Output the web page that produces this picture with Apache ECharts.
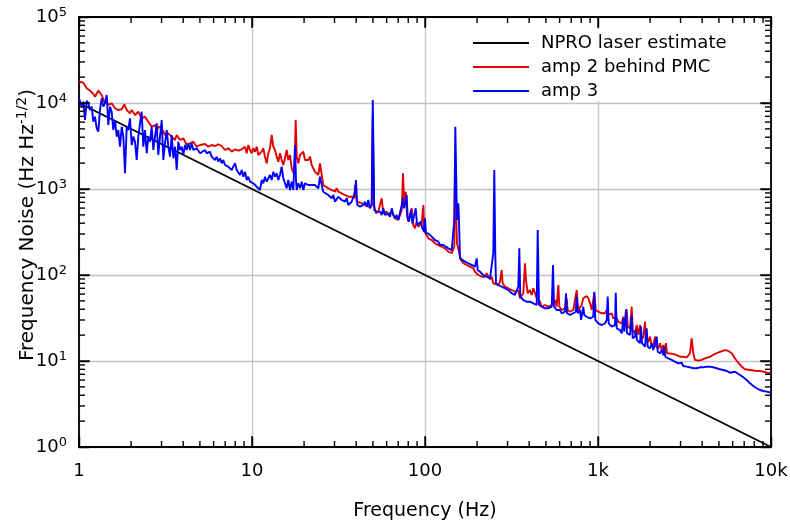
<!DOCTYPE html>
<html><head><meta charset="utf-8">
<script src="https://cdn.jsdelivr.net/npm/echarts@6/dist/echarts.min.js"></script>
<style>html,body{margin:0;padding:0;background:#fff}#c{width:790px;height:525px}</style>
</head><body><div id="c"></div>
<script>
// ---- data ----
const seriesNames = ['NPRO laser estimate', 'amp 2 behind PMC', 'amp 3'];
const xTickLabels = ['1', '10', '100', '1k', '10k'];
const yTickExponents = ['0', '1', '2', '3', '4', '5'];

const nproLaser = [[1, 10000], [10000, 1]];

const amp2 = [
[1.0,17690],[1.059,17220],[1.108,14820],[1.158,13900],[1.210,12730],[1.237,11840],[1.293,13900],[1.322,13540],[1.353,12390],[1.413,9920],
[1.446,10630],[1.477,9480],[1.545,9920],[1.615,8680],[1.687,8290],[1.766,8450],[1.828,9660],[1.887,8290],[1.971,7590],[2.017,8290],
[2.107,7255],[2.202,7920],[2.304,6640],[2.407,6930],[2.515,6060],[2.632,5300],[2.750,5550],[2.813,4640],[2.873,5300],[3.006,5080],
[3.142,4250],[3.283,4440],[3.434,4060],[3.589,3715],[3.671,4250],[3.836,3715],[4.009,3886],[4.194,3248],[4.382,3400],[4.579,3548],
[4.789,3104],[5.005,3248],
[5.121,3400],[5.350,3337],[5.590,3104],[5.848,3248],[6.110,3162],[6.387,3311],[6.681,3162],[6.983,2841],[7.295,2974],[7.632,2715],
[7.975,2894],[8.333,2788],[8.717,2894],[9.111,3104],[9.320,2601],[9.520,3248],[9.737,2841],[9.961,2601],[10.17,2974],[10.41,2715],
[10.65,3104],[10.88,2485],[11.12,2375],[11.38,2715],[11.62,2974],[11.89,2375],[12.16,1990],[12.43,2601],[12.71,2974],[13.00,4250],
[13.28,3104],[13.59,2841],[13.90,2375],[14.19,2077],[14.52,2601],[14.85,2174],[15.17,1902],[15.51,2275],[15.87,2841],[16.21,2174],
[16.59,2485],[16.97,1741],[17.33,1663],[17.57,1455],[17.89,6343],[18.13,2375],[18.52,1990],[18.95,2485],[19.38,2375],[19.80,2715],
[20.25,2174],[21.16,2174],[21.64,2375],[22.14,1902],[22.61,1741],[23.13,1589],[23.66,1523],
[24.2,1455],[24.7,1990],[25.3,1455],[25.8,1113],[26.4,1063],[27.6,1019],[28.9,974],[30.2,930],[30.9,1019],[31.5,930],
[33.0,891],[34.5,852],[36.0,814],[37.7,814],[39.0,780],[39.4,1113],[40.3,712],[41.2,682],[43.1,682],[45.0,652],
[46.0,682],[47.0,623],[48.1,596],[49.2,652],[49.9,7255],[50.7,652],[52.1,522],[53.7,545],[56.2,780],[57.4,522],
[58.7,499],[60.1,545],[61.4,499],[64.2,545],[67.1,456],[68.6,476],[70.1,436],[73.4,570],[74.6,1523],[75.9,652],
[77.4,930],[78.7,499],[80.1,417],[83.8,596],[85.6,381],[87.5,349],[89.5,417],[91.5,364],[95.7,399],[97.8,652],
[99.1,319],[102.3,292],[104.5,267],[109.3,255],
[114.2,234],[119.4,223],[124.9,213],[130.5,204],[136.4,187],[142.7,179],[145.8,171],[147.7,213],[149.1,1817],[151.1,1817],
[153.1,234],[155.8,244],[157.8,179],[161.5,149],[166.5,137],[174.2,131],[182.0,125],[190.2,120],[194.5,109],[203.3,100],
[212.7,95.5],[222.3,95.5],[227.3,105],[232.2,95.5],[237.5,89.1],[242.9,95.5],[248.2,80.1],[253.8,80.1],[265.2,76.5],[271.3,83.6],
[277.5,114],[281.2,80.1],[290.0,73.1],[303.0,70.0],[317.1,66.9],[331.3,63.9],[346.2,66.9],[354.1,53.6],[362.2,56.0],[370.0,61.3],
[378.4,137],[383.5,87.5],[392.3,61.3],[404.5,66.9],[413.8,58.6],[422.7,70.0],[432.3,61.3],[442.3,53.6],[451.8,51.2],[462.1,48.9],
[472.7,42.8],[493.9,44.8],[516.2,42.8],[540.1,44.8],
[564,51.2],[577,42.8],[590,76.5],[598,42.8],[617,39.2],[645,41.0],[659,53.6],[668,39.2],[689,37.4],[720,39.2],
[736,41.0],[753,66.9],[769,39.2],[787,39.2],[805,44.8],[822,53.6],[841,56.0],[860,57.0],[879,53.6],[899,46.9],
[920,39.2],[939,37.4],[952,61.3],[970,39.2],[1004,37.4],[1051,35.9],[1098,35.9],[1123,39.2],[1147,34.3],[1173,32.7],
[1200,35.9],[1226,31.4],[1254,30.0],[1283,31.4],[1310,28.6],[1340,27.4],[1371,27.4],[1401,32.7],[1432,25.1],[1465,39.9],
[1485,25.1],[1531,24.0],[1566,42.8],[1587,22.9],[1636,21.0],[1674,26.2],[1710,20.1],[1749,26.2],[1773,19.2],[1827,18.4],
[1869,28.6],[1894,17.5],[1953,16.8],[1998,19.2],[2025,16.1],[2088,15.3],[2136,19.2],[2164,14.7],[2232,14.0],[2283,16.1],
[2335,13.4],[2385,15.3],[2417,12.8],[2472,16.1],[2505,12.3],[2549,11.7],
[2725,12.1],[2851,11.7],[2979,11.2],[3112,11.2],[3256,11.0],[3327,11.2],[3403,12.3],[3480,18.4],[3555,12.3],[3636,10.3],
[3800,10.1],[3975,10.3],[4154,10.7],[4440,11.2],[4746,12.1],[5072,12.8],[5423,13.4],[5665,13.1],[5927,12.3],[6193,10.7],
[6471,9.55],[6770,8.59],[7074,8.01],[7560,7.86],[8083,7.71],[8639,7.65],[9027,7.51],[9444,7.31],[10000,7.19]
];

const amp3 = [
[1.0,11350],[1.037,9060],[1.059,10350],[1.083,6343],[1.108,10630],[1.132,9920],[1.158,8290],[1.184,9060],[1.210,6060],[1.237,6930],
[1.266,5080],[1.293,4640],[1.322,8290],[1.353,11350],[1.382,9060],[1.413,9920],[1.446,12390],[1.477,5550],[1.511,9060],[1.545,7920],
[1.579,4853],[1.615,6343],[1.652,4060],[1.687,4853],[1.726,3104],[1.766,5300],[1.804,4060],[1.845,1523],[1.887,5300],[1.928,4853],
[1.971,6640],[2.017,3248],[2.060,4060],[2.107,3548],[2.155,2174],[2.202,4060],[2.252,5807],[2.304,7920],[2.353,3104],[2.407,4853],
[2.462,2601],[2.515,4060],[2.573,3548],[2.632,5300],[2.689,2841],[2.750,4060],[2.813,5807],[2.873,2485],[2.939,4060],[3.006,6343],
[3.072,2174],[3.142,3400],[3.214,4853],[3.283,3104],[3.357,2375],[3.434,4250],[3.509,2275],[3.589,3104],[3.671,1663],[3.750,3548],
[3.836,2841],[3.924,3104],[4.009,2485],[4.101,3248],[4.194,2841],[4.284,3400],[4.382,2841],[4.482,3400],[4.579,2841],[4.683,2715],
[4.789,2974],[5.005,2601],
[5.121,2601],[5.350,2841],[5.473,2601],[5.590,2485],[5.719,2715],[5.848,2375],[5.974,2485],[6.110,2174],[6.252,2375],[6.387,2077],
[6.531,2275],[6.681,1990],[6.826,2174],[6.983,1902],[7.142,1990],[7.295,1817],[7.462,1902],[7.632,1663],[7.797,1817],[7.975,1990],
[8.158,1663],[8.333,1741],[8.524,1455],[8.717,1663],[8.908,1390],[9.111,1589],[9.320,1273],[9.520,1390],[9.737,1216],[9.961,1273],
[10.17,1165],[10.41,1216],[10.65,1063],[10.88,1113],[11.12,974],[11.38,1273],[11.62,1165],[11.89,1390],[12.16,1216],[12.43,1332],
[12.71,1455],[13.00,1273],[13.28,1589],[13.59,1390],[13.90,1523],[14.19,1273],[14.52,1455],[14.85,1817],[15.17,1332],[15.51,1273],
[15.87,1019],[16.21,1273],[16.59,974],[16.97,1216],[17.33,974],[17.73,3248],[17.96,1273],[18.13,974],[18.52,1165],[18.95,1019],
[19.38,1216],[19.80,974],[20.25,1165],[21.16,1113],[21.64,1063],[22.14,1113],[22.61,1063],
[23.1,1113],[24.2,1019],[24.7,1390],[25.3,1113],[25.8,930],[26.4,974],[27.6,852],[28.9,780],[29.5,852],[30.2,712],
[31.5,814],[33.0,745],[34.5,712],[35.3,780],[36.0,652],[37.7,712],[38.5,682],[39.4,930],[39.9,1273],[40.6,652],
[42.1,623],[44.0,652],[45.0,712],[46.0,623],[47.0,745],[48.1,596],[49.2,652],[49.9,10835],[50.3,10835],[50.9,570],
[52.6,545],[53.7,522],[55.0,545],[56.2,499],[57.4,596],[58.7,499],[60.1,476],[61.4,522],[62.8,476],[64.2,596],
[65.6,499],[67.1,456],[68.6,499],[70.1,436],[71.7,417],[73.4,652],[74.3,780],[75.6,596],[76.6,652],[78.4,852],
[79.4,456],[80.8,417],[83.0,570],[84.5,399],[86.4,381],[88.4,596],[89.9,381],[92.3,364],[94.8,417],[96.5,349],
[98.7,319],[100,456],[101.3,305],[104.5,305],[109.3,279],
[114.2,255],[119.4,244],[122.1,223],[124.9,234],[127.6,223],[130.5,213],[136.4,204],[142.7,195],[145.8,187],[147.7,436],
[149.7,5303],[151.7,5303],[153.1,436],[155.8,682],[157.2,436],[159.3,156],[163.0,149],[170.3,143],[177.9,137],[186.2,131],
[194.5,125],[199.0,156],[201.6,114],[208.0,109],[217.3,100],[227.3,95.5],[237.5,91.5],[242.9,91.5],[248.2,179],[251.5,1663],
[254.9,179],[257.2,80.1],[265.2,76.5],[277.5,73.1],[290.0,70.0],[303.0,66.9],[317.1,61.3],[331.3,58.6],[338.9,56.0],[346.2,73.1],
[350.9,204],[355.5,56.0],[370.0,51.2],[387.1,48.9],[404.5,48.9],[422.7,46.9],[442.3,44.8],[448.2,334],[456.0,44.8],[472.7,42.8],
[493.9,41.0],[516.2,41.0],[540.1,42.8],[549.5,131],[556.9,42.8],
[577,39.2],[590,37.4],[603,39.2],[617,35.9],[645,37.4],[653,61.3],[662,35.9],[689,34.3],[720,35.9],[743,37.4],
[753,56.0],[763,35.9],[787,39.2],[798,30.0],[822,42.8],[833,34.3],[860,32.7],[879,34.3],[899,31.4],[920,30.0],
[939,32.7],[952,63.9],[965,30.0],[1004,27.4],[1051,26.2],[1098,27.4],[1123,30.0],[1138,56.0],[1153,27.4],[1200,25.1],
[1254,26.2],[1266,62.3],[1283,24.0],[1340,22.9],[1371,21.0],[1401,31.4],[1419,21.9],[1451,39.9],[1471,21.0],[1531,20.1],
[1566,34.3],[1587,18.4],[1636,19.2],[1658,22.9],[1680,17.5],[1749,16.1],[1773,25.1],[1796,16.1],[1869,14.7],[1912,24.0],
[1937,14.7],[1998,14.0],[2044,16.1],[2088,13.4],[2136,14.0],[2185,19.2],[2214,12.8],[2283,12.3],[2335,13.4],[2385,11.7],
[2417,14.7],[2449,11.2],[2549,10.7],[2667,10.3],[2787,9.81],[2912,9.40],[2979,9.40],
[3046,9.55],[3112,8.75],[3256,8.59],[3403,8.45],[3555,8.23],[3636,8.59],[3719,8.23],[3886,8.45],[4061,8.45],[4249,8.59],
[4440,8.59],[4640,8.45],[4854,8.23],[5072,8.01],[5302,7.86],[5547,7.65],[5794,7.31],[6193,7.51],[6334,7.19],[6619,6.87],
[6916,6.46],[7235,6.01],[7560,5.50],[7903,5.12],[8267,4.82],[8639,4.60],[9027,4.48],[9444,4.40],[10000,4.28]
];

// ---- chart ----
const FONT = 'DejaVu Sans';
const chart = echarts.init(document.getElementById('c'), null, {renderer: 'canvas'});

const X_MIN = 1, X_MAX = 10000, Y_MIN = 1, Y_MAX = 100000;
// tick values on a log axis: [value, length] (decades long, 2..9 short)
function tickValues(maxVal) {
  const out = [];
  for (let d = 1; d <= maxVal; d *= 10) {
    out.push([d, 11]);
    if (d < maxVal) for (let k = 2; k <= 9; k++) out.push([d * k, 6]);
  }
  return out;
}
const xTicks = tickValues(X_MAX);
const yTicks = tickValues(Y_MAX);

const axisLineStyle = {color: '#000', width: 1.8};
const majorTick = {show: true, inside: true, length: 10, lineStyle: {color: '#000', width: 1.4}};

function plainLogAxis(min, max, position) {
  return {
    type: 'log', logBase: 10, min: min, max: max, position: position,
    axisLine: {show: true, onZero: false, lineStyle: axisLineStyle},
    axisTick: majorTick,
    axisLabel: {show: false}, splitLine: {show: false}
  };
}

chart.setOption({
  animation: false,
  backgroundColor: '#fff',
  grid: {left: 79, right: 19, top: 17, bottom: 78, containLabel: false, outerBoundsMode: 'none'},
  legend: {
    orient: 'vertical', left: 460, top: 29, padding: [4, 20, 0, 13],
    backgroundColor: '#fff', itemWidth: 56, itemHeight: 2, itemGap: 4, icon: 'rect',
    selectedMode: false, data: seriesNames,
    textStyle: {fontFamily: FONT, fontSize: 18, color: '#000', lineHeight: 20, padding: [0, 0, 0, 7]}
  },
  xAxis: [{
    type: 'log', logBase: 10, min: X_MIN, max: X_MAX, position: 'bottom',
    name: 'Frequency (Hz)', nameLocation: 'middle', nameGap: 55,
    nameTextStyle: {fontFamily: FONT, fontSize: 19, color: '#000'},
    axisLine: {show: true, onZero: false, lineStyle: axisLineStyle},
    axisTick: majorTick,
    axisLabel: {
      fontFamily: FONT, fontSize: 18, color: '#000', margin: 15,
      formatter: v => xTickLabels[Math.round(Math.log10(v))]
    },
    splitLine: {show: true, lineStyle: {color: '#c4c4c4', width: 1.3}}
  }, plainLogAxis(X_MIN, X_MAX, 'top')],
  yAxis: [{
    type: 'log', logBase: 10, min: Y_MIN, max: Y_MAX, position: 'left',
    name: '{t|Frequency Noise (Hz Hz}{s|-1/2}{t|)}', nameLocation: 'middle', nameGap: 38,
    nameMoveOverlap: false,
    nameTextStyle: {
      color: '#000', fontFamily: FONT, padding: [0, 0, 0, 14],
      rich: {
        t: {fontFamily: FONT, fontSize: 20, color: '#000', lineHeight: 26},
        s: {fontFamily: FONT, fontSize: 14, color: '#000', lineHeight: 15, verticalAlign: 'top'}
      }
    },
    axisLine: {show: true, onZero: false, lineStyle: axisLineStyle},
    axisTick: majorTick,
    axisLabel: {
      margin: 12, color: '#000',
      formatter: v => '{b|10}{s|' + yTickExponents[Math.round(Math.log10(v))] + '}',
      rich: {
        b: {fontFamily: FONT, fontSize: 18, color: '#000', lineHeight: 22},
        s: {fontFamily: FONT, fontSize: 13, color: '#000', lineHeight: 13, verticalAlign: 'top'}
      }
    },
    splitLine: {show: true, lineStyle: {color: '#c4c4c4', width: 1.3}}
  }, plainLogAxis(Y_MIN, Y_MAX, 'right')],
  series: [
    {name: seriesNames[0], type: 'line', data: nproLaser, symbol: 'none', xAxisIndex: 0, yAxisIndex: 0,
     lineStyle: {color: '#000', width: 1.8}, itemStyle: {color: '#000'}, z: 3},
    {name: seriesNames[1], type: 'line', data: amp2, symbol: 'none', xAxisIndex: 0, yAxisIndex: 0,
     lineStyle: {color: '#e00000', width: 1.9}, itemStyle: {color: '#e00000'}, z: 4},
    {name: seriesNames[2], type: 'line', data: amp3, symbol: 'none', xAxisIndex: 0, yAxisIndex: 0,
     lineStyle: {color: '#0000ff', width: 1.9}, itemStyle: {color: '#0000ff'}, z: 5}
  ]
});

// Tick marks: positions come from the chart's own log scales via convertToPixel.
function drawTicks() {
  const tickEls = [];
  function addTick(dataPt, dx, dy) {
    let p = chart.convertToPixel({gridIndex: 0}, dataPt);
    if (!p || isNaN(p[0]) || isNaN(p[1])) {
      const px = chart.convertToPixel({xAxisIndex: 0}, dataPt[0]);
      const py = chart.convertToPixel({yAxisIndex: 0}, dataPt[1]);
      p = [px, py];
    }
    if (p == null || isNaN(p[0]) || isNaN(p[1])) return;
    tickEls.push({
      type: 'line', silent: true, z: 100, zlevel: 0,
      shape: {x1: p[0], y1: p[1], x2: p[0] + dx, y2: p[1] + dy},
      style: {stroke: '#000', lineWidth: 1.4, fill: null}
    });
  }
  xTicks.forEach(t => { addTick([t[0], Y_MIN], 0, -t[1]); addTick([t[0], Y_MAX], 0, t[1]); });
  yTicks.forEach(t => { addTick([X_MIN, t[0]], t[1], 0); addTick([X_MAX, t[0]], -t[1], 0); });
  chart.setOption({graphic: tickEls});
}
drawTicks();
</script>
</body></html>
